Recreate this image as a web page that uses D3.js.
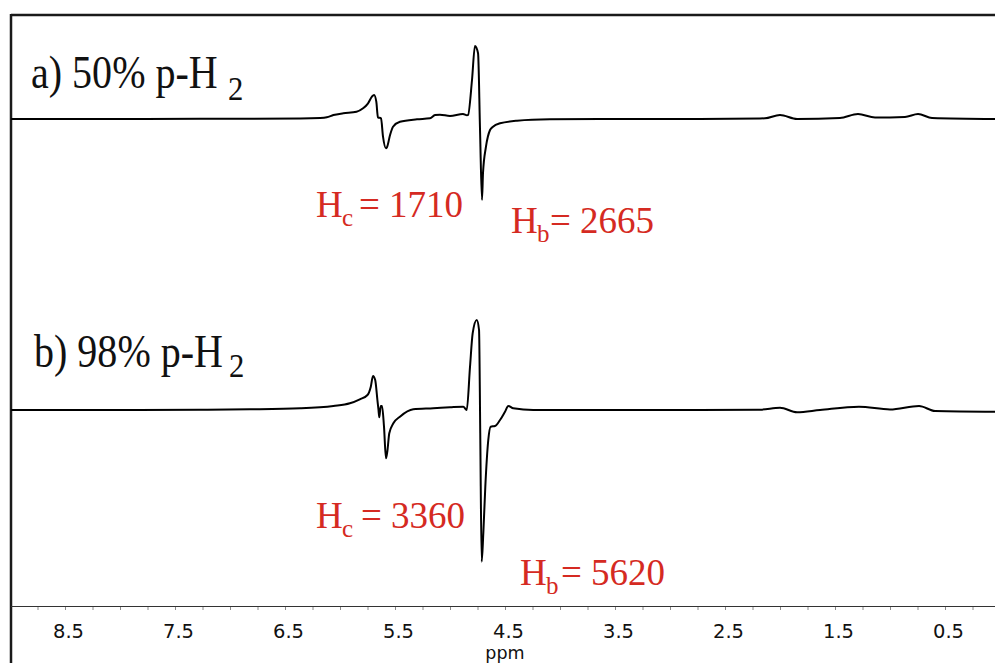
<!DOCTYPE html>
<html>
<head>
<meta charset="utf-8">
<script src="https://cdn.jsdelivr.net/npm/d3@7"></script>
<style>
  html, body { margin: 0; padding: 0; background: #fff; }
  svg { display: block; }
</style>
</head>
<body>
<svg id="chart" width="995" height="663"></svg>
<script>
// ---- data ----
const ppmA = [8.99, 8.18, 7.27, 6.36, 6.18, 6.12, 6.06, 5.97, 5.85, 5.79, 5.745, 5.71, 5.69, 5.67, 5.655, 5.627, 5.609, 5.582, 5.573, 5.545, 5.518, 5.455, 5.30, 5.182, 5.136, 5.091, 5.0, 4.882, 4.845, 4.836, 4.80, 4.773, 4.745, 4.727, 4.709, 4.70, 4.673, 4.636, 4.609, 4.545, 4.391, 4.091, 3.636, 2.727, 2.182, 2.136, 2.0, 1.845, 1.455, 1.291, 1.136, 0.864, 0.745, 0.618, 0.045];
const intA = [0, 0, 0.2, 0.5, 1, 1.7, 4, 5.7, 7.3, 10.7, 15.7, 22.3, 24, 17.3, 1.7, 0.7, -17.7, -29.3, -28.3, -16, -7.7, -2.7, -0.3, 0.7, 4, 4.3, 3, 5, 3.7, 4, 39, 73, 65.7, -11, -81, -54, -27.7, -11, -7.7, -4.3, -1.7, -0.3, 0, 0, 0.5, 0.7, 4, 0, 1, 5, 1.5, 2, 5, 1, 0];

const ppmB = [8.99, 8.18, 7.27, 6.82, 6.36, 6.06, 5.91, 5.82, 5.75, 5.72, 5.70, 5.68, 5.66, 5.65, 5.643, 5.63, 5.618, 5.60, 5.582, 5.57, 5.552, 5.515, 5.455, 5.334, 5.152, 5.0, 4.879, 4.848, 4.818, 4.794, 4.757, 4.736, 4.725, 4.712, 4.697, 4.679, 4.652, 4.63, 4.591, 4.545, 4.5, 4.47, 4.425, 4.243, 4.091, 2.727, 2.182, 2.0, 1.845, 1.636, 1.282, 1.0, 0.736, 0.59, 0.045];
const intB = [0, 0, 0.3, 0.7, 1.7, 4, 6.7, 10.7, 15, 23.3, 34, 30, 10, 0, -7.3, 4, 4, -16.7, -48.3, -41.7, -23.3, -13.3, -6.7, 0.7, 1.7, 2.7, 3.3, 0, 43.3, 76.7, 90, 80, -23, -151.7, -123, -76.7, -30, -16.7, -16, -10, -1.7, 4, 1.7, 0, 0, 0, 0.3, 2.3, -2.3, 0, 3.3, 0.5, 4, -1, -1.7];

const tickLabels = [8.5, 7.5, 6.5, 5.5, 4.5, 3.5, 2.5, 1.5, 0.5];
const minorTicks = [8.75, 8.5, 8.25, 8.0, 7.75, 7.5, 7.25, 7.0, 6.75, 6.5, 6.25, 6.0, 5.75, 5.5, 5.25, 5.0, 4.75, 4.5, 4.25, 4.0, 3.75, 3.5, 3.25, 3.0, 2.75, 2.5, 2.25, 2.0, 1.75, 1.5, 1.25, 1.0, 0.75, 0.5, 0.25];
const axisTitle = "ppm";

const panelLabels = [
  { main: "a) 50% p-H", sub: "2" },
  { main: "b) 98% p-H", sub: "2" }
];
const integrals = [
  { sub: "c", value: "1710" },
  { sub: "b", value: "2665" },
  { sub: "c", value: "3360" },
  { sub: "b", value: "5620" }
];

// ---- layout ----
const svg = d3.select("#chart");
const x = d3.scaleLinear().domain([9.0, 0.0]).range([10, 1000]);
const yA = d3.scaleLinear().domain([-100, 100]).range([219, 19]);
const yB = d3.scaleLinear().domain([-100, 100]).range([510, 310]);
const axisY = 606;

// frame
svg.append("line").attr("x1", 11).attr("x2", 995).attr("y1", 15).attr("y2", 15)
  .attr("stroke", "#1a1a1a").attr("stroke-width", 2.5);
svg.append("line").attr("x1", 11).attr("x2", 11).attr("y1", 14).attr("y2", 663)
  .attr("stroke", "#1a1a1a").attr("stroke-width", 2.5);

// axis
const minorAxis = d3.axisBottom(x).tickValues(minorTicks).tickSize(4).tickFormat("");
const gMinor = svg.append("g").attr("transform", `translate(0,${axisY})`).call(minorAxis);
gMinor.select(".domain").remove();
gMinor.selectAll(".tick line").attr("stroke", "#8a8a8a").attr("stroke-width", 1);

const majorAxis = d3.axisBottom(x).tickValues(tickLabels).tickSize(0).tickPadding(20)
  .tickFormat(d3.format(".1f"));
const gMajor = svg.append("g").attr("transform", `translate(0,${axisY})`).call(majorAxis);
gMajor.select(".domain").remove();
gMajor.selectAll(".tick text")
  .attr("font-family", "'DejaVu Sans', Verdana, sans-serif")
  .attr("font-size", "19.5px").attr("fill", "#111")
  .attr("dx", 3).attr("dy", 0).attr("y", 32);

svg.append("line").attr("x1", 11).attr("x2", 995).attr("y1", axisY + 0.5).attr("y2", axisY + 0.5)
  .attr("stroke", "#333").attr("stroke-width", 1);

svg.append("text").attr("x", x(4.5)).attr("y", 659).attr("text-anchor", "middle")
  .attr("font-family", "'DejaVu Sans', Verdana, sans-serif").attr("font-size", "17.5px")
  .attr("fill", "#111").text(axisTitle);

// traces
const lineA = d3.line().x((d, i) => x(ppmA[i])).y(d => yA(d)).curve(d3.curveMonotoneX);
const lineB = d3.line().x((d, i) => x(ppmB[i])).y(d => yB(d)).curve(d3.curveMonotoneX);
svg.append("path").datum(intA).attr("d", lineA)
  .attr("fill", "none").attr("stroke", "#000").attr("stroke-width", 2).attr("stroke-linejoin", "round");
svg.append("path").datum(intB).attr("d", lineB)
  .attr("fill", "none").attr("stroke", "#000").attr("stroke-width", 2).attr("stroke-linejoin", "round");

// panel labels
const serif = "'Liberation Serif', 'Times New Roman', serif";
const labelPos = [
  { x: 31, y: 88, sx: 228, sy: 100 },
  { x: 34, y: 367, sx: 229, sy: 377 }
];
panelLabels.forEach((l, i) => {
  const p = labelPos[i];
  svg.append("text").attr("transform", `translate(${p.x},${p.y}) scale(0.91,1.05)`)
    .attr("font-family", serif).attr("font-size", "44px").attr("fill", "#111").text(l.main);
  svg.append("text").attr("transform", `translate(${p.sx},${p.sy}) scale(0.93,1.05)`)
    .attr("font-family", serif).attr("font-size", "33px").attr("fill", "#111").text(l.sub);
});

// integral labels
const red = "#d52a22";
const intPos = [
  { hx: 316, y: 217, ex: 359 },
  { hx: 511, y: 233, ex: 550 },
  { hx: 316, y: 528, ex: 361 },
  { hx: 520, y: 585, ex: 561 }
];
integrals.forEach((t, i) => {
  const p = intPos[i];
  svg.append("text").attr("x", p.hx).attr("y", p.y)
    .attr("font-family", serif).attr("font-size", "37px").attr("fill", red).text("H");
  svg.append("text").attr("x", p.hx + 26).attr("y", p.y + 9)
    .attr("font-family", serif).attr("font-size", "25px").attr("fill", red).text(t.sub);
  svg.append("text").attr("x", p.ex).attr("y", p.y)
    .attr("font-family", serif).attr("font-size", "37px").attr("fill", red).text("= " + t.value);
});
</script>
</body>
</html>
